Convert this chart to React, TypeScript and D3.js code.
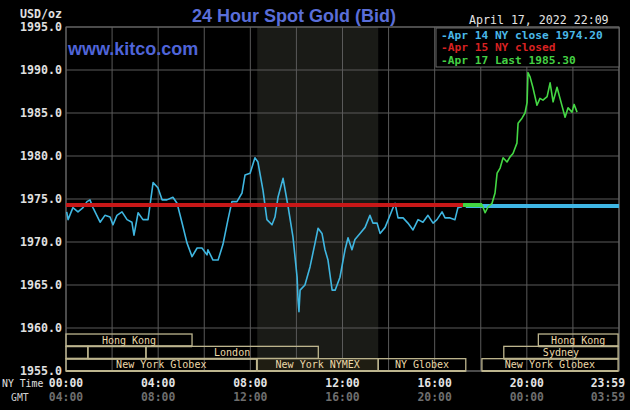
import React from 'react';
import * as d3 from 'd3';

// Apr 14 trace (NY time, hours since midnight) and bid price
const blueTimes = [0.03, 0.09, 0.3, 0.52, 0.74, 0.91, 1.04, 1.17, 1.48, 1.69, 1.91, 2.04, 2.21, 2.43, 2.65, 2.86, 2.95, 3.13, 3.34, 3.56,
  3.78, 3.99, 4.17, 4.38, 4.64, 4.82, 5.03, 5.25, 5.47, 5.69, 5.9, 6.12, 6.16, 6.38, 6.6, 6.81, 7.03, 7.2, 7.42, 7.64,
  7.77, 7.99, 8.2, 8.33, 8.55, 8.72, 8.94, 9.07, 9.2, 9.42, 9.64, 9.85, 10.03, 10.07, 10.11, 10.16, 10.37, 10.59, 10.81, 10.94,
  11.11, 11.24, 11.37, 11.55, 11.68, 11.89, 12.11, 12.24, 12.41, 12.54, 12.76, 12.98, 13.19, 13.32, 13.5, 13.63, 13.85, 14.15, 14.28, 14.41,
  14.63, 14.84, 15.06, 15.28, 15.49, 15.71, 15.93, 16.1, 16.32, 16.45, 16.67, 16.88, 17.01, 17.19];
const bluePrices = [1973.5, 1972.6, 1974.0, 1973.5, 1974.0, 1974.7, 1974.9, 1974.0, 1972.3, 1973.1, 1972.9, 1972.0, 1973.1, 1973.5, 1972.6, 1972.3, 1970.8, 1973.4, 1972.6, 1972.6,
  1976.9, 1976.3, 1974.9, 1974.9, 1975.2, 1974.5, 1972.3, 1969.9, 1968.3, 1969.3, 1969.3, 1968.5, 1969.1, 1967.9, 1967.9, 1969.7, 1972.6, 1974.7, 1974.7, 1975.7,
  1977.8, 1978.0, 1979.8, 1979.3, 1976.0, 1972.6, 1972.0, 1972.9, 1975.2, 1977.4, 1974.1, 1970.6, 1965.9, 1963.3, 1961.9, 1964.4, 1965.0, 1967.1, 1969.9, 1971.6,
  1971.0, 1969.1, 1967.9, 1964.4, 1964.4, 1965.9, 1969.1, 1970.5, 1969.1, 1970.3, 1971.0, 1971.7, 1973.1, 1972.2, 1972.2, 1971.0, 1971.7, 1973.7, 1974.5, 1972.8,
  1972.8, 1972.2, 1971.4, 1972.6, 1972.3, 1973.1, 1972.2, 1972.6, 1973.5, 1972.8, 1972.8, 1972.6, 1974.0, 1974.1];

// Apr 17 trace
const greenTimes = [17.23, 18.06, 18.19, 18.32, 18.49, 18.62, 18.71, 18.84, 18.97, 19.14, 19.27, 19.4, 19.57, 19.62, 19.79, 19.92, 20.01, 20.05, 20.14, 20.27,
  20.44, 20.57, 20.7, 20.88, 21.01, 21.14, 21.31, 21.44, 21.66, 21.79, 21.96, 22.05, 22.18];
const greenPrices = [1974.3, 1974.3, 1973.4, 1974.1, 1974.5, 1975.7, 1978.0, 1978.6, 1979.8, 1979.3, 1979.9, 1980.3, 1981.5, 1983.8, 1984.4, 1985.0, 1986.2, 1989.7, 1989.2, 1987.9,
  1985.9, 1986.7, 1986.5, 1986.9, 1988.5, 1986.3, 1988.0, 1986.7, 1984.5, 1985.6, 1985.1, 1986.0, 1985.1];

const aprilCloseValue = 1974.2;
const closedValue = 1974.3;
const lastValue = 1985.3;

const yTicks = [1995, 1990, 1985, 1980, 1975, 1970, 1965, 1960, 1955];
const nyTimeLabels = ['00:00', '04:00', '08:00', '12:00', '16:00', '20:00', '23:59'];
const gmtLabels = ['04:00', '08:00', '12:00', '16:00', '20:00', '00:00', '03:59'];
const labelHours = [0, 4, 8, 12, 16, 20, 24];

// trading sessions: row, start hour, end hour, name
const sessionRows = [0, 0, 1, 1, 1, 1, 2, 2, 2, 2];
const sessionStarts = [0, 20.5, 0, 0.95, 3.47, 19, 0, 8.3, 13.55, 18.05];
const sessionEnds = [5.47, 23.96, 0.95, 3.47, 10.95, 23.96, 8.27, 13.55, 17.35, 23.96];
const sessionNames = ['Hong Kong', 'Hong Kong', '', '', 'London', 'Sydney', 'New York Globex', 'New York NYMEX', 'NY Globex', 'New York Globex'];

const W = 630;
const H = 410;
const MONO = '"DejaVu Sans Mono", monospace';
const SANS = '"Liberation Sans", Arial, sans-serif';

export default function App() {
  const x = d3.scaleLinear().domain([0, 24]).range([66, 619]);
  const y = d3.scaleLinear().domain([1955, 1995]).range([371, 27]);
  const rowY = d3.scaleBand<number>().domain([0, 1, 2]).range([y(1959.3), y(1955)]);

  const line = d3.line<[number, number]>().x(d => x(d[0])).y(d => y(d[1]));
  const blue = blueTimes.map((t, i) => [t, bluePrices[i]] as [number, number]);
  const green = greenTimes.map((t, i) => [t, greenPrices[i]] as [number, number]);

  const grid = d3.range(0, 25, 2);

  return (
    <svg width={W} height={H} style={{ position: 'absolute', left: 0, top: 0, background: '#000' }}>
      <rect width={W} height={H} fill="#000" />
      {/* NYMEX shading */}
      <rect x={x(8.3)} y={y(1995)} width={x(13.55) - x(8.3)} height={y(1955) - y(1995)} fill="#1a1b17" />

      {/* grid */}
      {grid.map(h => (
        <line key={'v' + h} x1={x(h)} x2={x(h)} y1={y(1995)} y2={y(1955)} stroke="#5a5a5a" strokeWidth={1} />
      ))}
      {yTicks.map(v => (
        <line key={'h' + v} x1={x(0)} x2={x(24)} y1={y(v)} y2={y(v)} stroke="#5a5a5a" strokeWidth={1} />
      ))}
      <rect x={x(0)} y={y(1995)} width={x(24) - x(0)} height={y(1955) - y(1995)} fill="none" stroke="#6a6a6a" />

      {/* sessions */}
      {sessionRows.map((r, i) => {
        const x0 = x(sessionStarts[i]);
        const x1 = x(sessionEnds[i]);
        const y0 = rowY(r)!;
        const bh = rowY.bandwidth();
        return (
          <g key={'s' + i}>
            <rect x={x0} y={y0} width={x1 - x0} height={bh}
              fill={sessionNames[i] === 'New York NYMEX' ? '#1f1d12' : 'none'}
              stroke="#bdb58e" strokeWidth={1.3} />
            <line x1={x0} x2={x1} y1={y0 + bh} y2={y0 + bh} stroke="#bdb58e" strokeWidth={2} />
            {sessionNames[i] && (
              <text x={(x0 + x1) / 2} y={y0 + bh / 2 + 3.6} textAnchor="middle" fontFamily={MONO} fontSize={10} fill="#ecd9a8">
                {sessionNames[i]}
              </text>
            )}
          </g>
        );
      })}

      {/* reference lines */}
      <line x1={x(17.35)} x2={x(24)} y1={y(aprilCloseValue)} y2={y(aprilCloseValue)} stroke="#3fb6e4" strokeWidth={4} />
      <path d={line(blue) ?? ''} fill="none" stroke="#3fb6e0" strokeWidth={1.6} strokeLinejoin="round" />
      <line x1={x(0)} x2={x(17.23)} y1={y(closedValue)} y2={y(closedValue)} stroke="#c81818" strokeWidth={4} />
      <line x1={x(17.23)} x2={x(18.06)} y1={y(closedValue)} y2={y(closedValue)} stroke="#3fd23f" strokeWidth={4} />
      <path d={line(green) ?? ''} fill="none" stroke="#44d844" strokeWidth={1.6} strokeLinejoin="round" />

      {/* legend */}
      <rect x={436} y={28} width={183} height={39} fill="#000" stroke="#6a6a6a" />
      <text x={441} y={38.5} fontFamily={MONO} fontWeight="bold" fontSize={11.2} fill="#4ab8e8">
        -Apr 14 NY close {aprilCloseValue.toFixed(2)}
      </text>
      <text x={441} y={51} fontFamily={MONO} fontWeight="bold" fontSize={11.2} fill="#d82222">
        -Apr 15 NY closed
      </text>
      <text x={441} y={63.5} fontFamily={MONO} fontWeight="bold" fontSize={11.2} fill="#44d044">
        -Apr 17 Last {lastValue.toFixed(2)}
      </text>

      {/* titles */}
      <text x={294} y={22} textAnchor="middle" fontFamily={SANS} fontWeight="bold" fontSize={18} fill="#5a6ed8">
        24 Hour Spot Gold (Bid)
      </text>
      <text x={68} y={55} fontFamily={SANS} fontWeight="bold" fontSize={18} fill="#4f64d8">
        www.kitco.com
      </text>
      <text x={469} y={24} fontFamily={MONO} fontSize={11.6} fill="#e4e4e4">
        April 17, 2022 22:09
      </text>

      {/* y axis */}
      <text x={20} y={18} fontFamily={MONO} fontWeight="bold" fontSize={11.6} fill="#e0e0e0">USD/oz</text>
      {yTicks.map(v => (
        <text key={'yl' + v} x={62} y={y(v) + 4} textAnchor="end" fontFamily={MONO} fontWeight="bold" fontSize={11.6} fill="#e0e0e0">
          {v.toFixed(1)}
        </text>
      ))}

      {/* x axis */}
      <text x={2} y={387} fontFamily={MONO} fontSize={9.8} fill="#e0e0e0">NY Time</text>
      <text x={11} y={401} fontFamily={MONO} fontSize={9.8} fill="#d0d0d0">GMT</text>
      {labelHours.map((h, i) => {
        const last = i === labelHours.length - 1;
        return (
          <g key={'xl' + h}>
            <text x={last ? 625 : x(h)} y={387} textAnchor={last ? 'end' : 'middle'} fontFamily={MONO} fontWeight="bold" fontSize={11.4} fill="#e4e4e4">
              {nyTimeLabels[i]}
            </text>
            <text x={last ? 625 : x(h)} y={401} textAnchor={last ? 'end' : 'middle'} fontFamily={MONO} fontWeight="bold" fontSize={11.4} fill="#6e6e6e">
              {gmtLabels[i]}
            </text>
          </g>
        );
      })}
    </svg>
  );
}
